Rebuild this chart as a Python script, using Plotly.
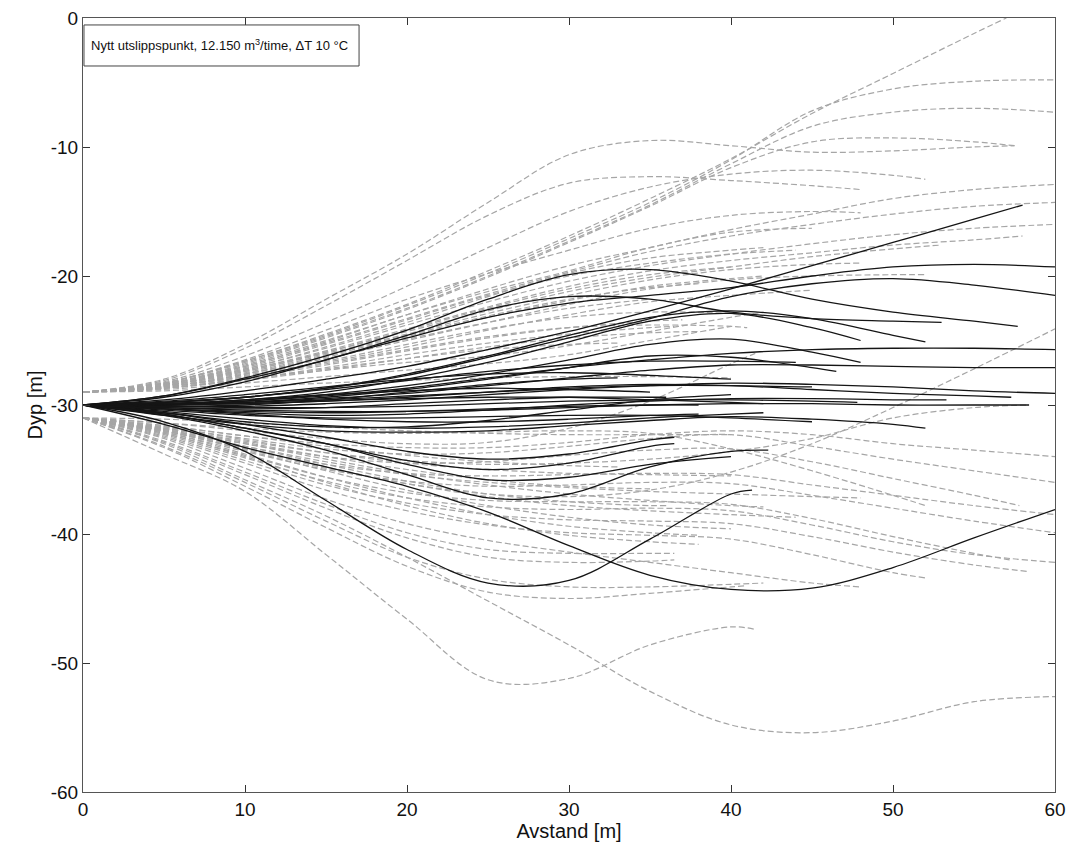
import plotly.graph_objects as go

# Common x grid (m); each line is listed at these x positions up to its end point
X_GRID = [0, 5, 10, 15, 20, 25, 30, 35, 40, 45, 50, 55, 60]

# ---- grey dashed trajectories, starting at -29 m (upper) ----
UPPER_ENDS = [57.5, 48, 57, 60, 60, 57.5, 52, 60, 60, 60, 58, 53, 48, 45, 48, 52, 45,
              42, 41, 37, 36.5, 38, 40, 35, 42, 38, 33, 42, 44, 42, 40, 40]
UPPER_Y = [
    [-29, -28, -25.3, -21.8, -18.3, -14.3, -10.6, -9.5, -9.9, -10.4, -10.3, -10.0, -9.9],
    [-29, -28.1, -25.6, -22.3, -18.8, -15.3, -12.8, -12.3, -12.6, -13.0, -13.3],
    [-29, -28.3, -26.6, -24.5, -22.2, -19.6, -16.9, -14.0, -10.9, -7.4, -4.3, -1.2, 0],
    [-29, -28.3, -26.6, -24.6, -22.3, -19.8, -17.1, -14.3, -11.0, -7.2, -5.5, -4.9, -4.8],
    [-29, -28.3, -26.7, -24.7, -22.5, -20.0, -17.3, -14.5, -11.3, -8.4, -7.3, -7.0, -7.3],
    [-29, -28.4, -26.8, -24.8, -22.6, -20.1, -17.4, -14.6, -11.6, -9.6, -9.3, -9.6, -9.9],
    [-29, -28.2, -26.2, -23.6, -20.8, -17.8, -15.0, -13.1, -12.1, -11.8, -12.2, -12.5],
    [-29, -28.4, -26.9, -25.0, -23.0, -21.0, -19.2, -17.8, -16.4, -15.2, -14.0, -13.3, -12.9],
    [-29, -28.4, -27.0, -25.2, -23.3, -21.4, -19.7, -18.1, -16.9, -16.0, -15.2, -14.6, -14.3],
    [-29, -28.5, -27.2, -25.6, -23.8, -22.0, -20.4, -19.2, -18.3, -17.5, -16.8, -16.3, -16.0],
    [-29, -28.5, -27.3, -25.8, -24.1, -22.4, -20.8, -19.6, -18.8, -18.2, -17.6, -17.2, -16.9],
    [-29, -28.5, -27.3, -25.9, -24.3, -22.7, -21.2, -20.1, -19.3, -18.5, -17.9, -17.6],
    [-29, -28.3, -26.5, -24.2, -21.8, -19.8, -18.0, -16.3, -15.3, -15.0, -15.1],
    [-29, -28.4, -27.0, -25.1, -23.0, -21.2, -19.6, -17.8, -16.6, -16.3],
    [-29, -28.5, -27.4, -26.0, -24.5, -22.9, -21.5, -20.3, -19.5, -19.1, -19.0],
    [-29, -28.6, -27.6, -26.4, -25.0, -23.6, -22.2, -21.0, -20.3, -20.0, -19.9, -19.9],
    [-29, -28.6, -27.8, -26.7, -25.5, -24.2, -23.0, -22.0, -21.5, -21.1],
    [-29, -28.6, -27.7, -26.6, -25.3, -24.1, -23.2, -22.8, -22.9, -23.1],
    [-29, -28.6, -27.8, -26.8, -25.7, -24.7, -24.0, -23.8, -23.9, -24.0],
    [-29, -28.7, -27.9, -26.9, -25.8, -24.8, -24.0, -23.5, -23.4],
    [-29, -28.7, -28.0, -27.1, -26.1, -25.2, -24.5, -24.0, -23.9],
    [-29, -28.5, -27.5, -26.1, -24.6, -23.1, -21.8, -20.9, -20.6],
    [-29, -28.5, -27.4, -25.9, -24.2, -22.5, -21.0, -19.9, -19.3],
    [-29, -28.6, -27.6, -26.3, -24.9, -23.6, -22.5, -21.8],
    [-29, -28.6, -27.6, -26.2, -24.7, -23.2, -21.9, -20.8, -20.2, -20.0],
    [-29, -28.7, -28.1, -27.3, -26.4, -25.5, -24.8, -24.4, -24.3],
    [-29, -28.7, -28.0, -27.2, -26.4, -25.7, -25.3, -25.2],
    [-29, -28.4, -27.2, -25.5, -23.6, -21.6, -19.8, -18.6, -18.0, -17.8],
    [-29, -28.4, -27.1, -25.3, -23.4, -21.5, -20.0, -19.0, -18.3, -18.0],
    [-29, -28.7, -28.0, -27.3, -26.7, -26.2, -25.4, -24.3, -23.2, -22.8],
    [-29, -28.8, -28.3, -27.8, -27.3, -26.8, -26.1, -25.0, -23.9],
    [-29, -28.9, -28.6, -28.3, -28.1, -27.9, -27.8, -27.8, -27.9],
]

# ---- grey dashed trajectories, starting at -31 m (lower) ----
LOWER_ENDS = [41.5, 60, 60, 60, 57.8, 52, 60, 60, 57.2, 60, 58.3, 52, 48, 36.5, 36.5, 42, 41,
              48, 36, 40, 38, 42, 35, 40, 44, 38, 33, 60, 58.3, 41.5, 40]
LOWER_Y = [
    [-31, -33.8, -36.7, -41.6, -46.6, -51.3, -51.2, -48.6, -47.2, -47.4],
    [-31, -33.0, -35.8, -38.6, -41.8, -45.2, -48.6, -52.2, -54.8, -55.4, -54.5, -53.0, -52.6],
    [-31, -31.6, -32.4, -33.0, -33.3, -33.3, -32.9, -32.3, -32.0, -32.3, -33.0, -33.5, -34.0],
    [-31, -31.7, -32.6, -33.4, -33.8, -33.7, -33.2, -32.6, -32.3, -33.2, -34.2, -35.1, -36.0],
    [-31, -31.9, -33.0, -34.0, -34.5, -34.4, -33.9, -33.5, -33.4, -34.4, -35.7, -37.0, -37.8],
    [-31, -31.4, -31.8, -32.1, -32.2, -32.1, -32.0, -32.2, -33.4, -35.1, -37.0, -37.8],
    [-31, -32.0, -33.4, -34.6, -35.3, -35.5, -35.4, -35.3, -35.4, -36.2, -37.0, -37.8, -38.5],
    [-31, -32.1, -33.6, -35.0, -35.9, -36.3, -36.2, -36.0, -36.1, -37.0, -38.0, -39.0, -39.9],
    [-31, -32.2, -33.9, -35.6, -36.8, -37.4, -37.5, -37.5, -37.7, -38.8, -40.2, -41.5, -42.0],
    [-31, -32.3, -34.1, -35.9, -37.2, -37.9, -38.1, -38.0, -38.2, -39.3, -40.6, -41.6, -42.2],
    [-31, -32.4, -34.3, -36.2, -37.6, -38.5, -38.9, -39.0, -39.2, -40.2, -41.4, -42.4, -42.9],
    [-31, -32.5, -34.5, -36.6, -38.2, -39.3, -39.9, -40.1, -40.4, -41.6, -43.0, -43.4],
    [-31, -32.0, -33.2, -34.4, -35.4, -36.0, -36.4, -36.7, -36.9, -37.1, -37.2],
    [-31, -32.8, -35.2, -37.7, -39.9, -41.2, -41.5, -41.5, -41.5],
    [-31, -32.9, -35.4, -38.0, -40.3, -41.8, -42.2, -42.1, -42.0],
    [-31, -33.2, -36.0, -39.0, -41.8, -43.5, -44.1, -44.1, -43.9, -43.8],
    [-31, -33.3, -36.3, -39.5, -42.5, -44.5, -45.0, -44.6, -44.1, -44.0],
    [-31, -32.6, -34.9, -37.3, -39.2, -40.5, -41.4, -42.2, -43.0, -43.8, -44.1],
    [-31, -31.9, -33.2, -34.6, -35.9, -36.9, -37.5, -37.8, -37.8],
    [-31, -32.0, -33.5, -35.1, -36.6, -37.8, -38.7, -39.3, -39.6],
    [-31, -32.1, -33.8, -35.6, -37.2, -38.5, -39.4, -39.9, -40.1],
    [-31, -31.8, -33.0, -34.2, -35.3, -36.2, -36.9, -37.4, -37.8, -37.9],
    [-31, -31.8, -32.9, -34.0, -35.0, -35.8, -36.3, -36.5],
    [-31, -31.7, -32.7, -33.7, -34.5, -35.0, -35.3, -35.4, -35.5],
    [-31, -31.9, -33.3, -34.8, -36.1, -37.1, -37.8, -38.2, -38.5, -38.7],
    [-31, -32.2, -34.0, -36.0, -37.8, -39.2, -40.1, -40.6, -40.8],
    [-31, -31.6, -32.4, -33.2, -33.9, -34.4, -34.7, -34.8],
    [-31, -32.0, -33.4, -34.9, -36.1, -36.9, -37.1, -36.6, -35.2, -33.0, -30.2, -27.2, -24.1],
    [-31, -31.8, -32.8, -33.7, -34.3, -34.6, -34.5, -34.2, -33.6, -32.6, -31.0, -30.2, -30.0],
    [-31, -31.4, -32.0, -32.6, -33.0, -32.9, -31.8, -29.7, -26.8, -26.0],
    [-31, -31.1, -31.4, -31.7, -32.0, -32.2, -32.3, -32.3, -32.3],
]

# ---- black solid trajectories, starting at -30 m ----
BLACK_ENDS = [58, 57.7, 60, 60, 53, 52, 48, 48, 46.5, 60, 60, 60, 57.3, 58.4, 47.8, 53.3, 45, 52,
              40, 38, 35, 42, 36, 44, 40, 33, 41.3, 60, 42.3, 40, 36.5, 36.5, 45, 38, 42]
BLACK_Y = [
    [-30, -29.6, -28.9, -28.0, -27.0, -25.7, -24.3, -22.7, -21.0, -19.2, -17.4, -15.6, -14.5],
    [-30, -29.3, -27.9, -26.2, -24.2, -21.8, -19.9, -19.5, -20.4, -21.8, -22.8, -23.5, -23.9],
    [-30, -29.4, -28.2, -26.5, -24.8, -23.2, -22.1, -21.5, -20.9, -20.0, -19.3, -19.1, -19.3],
    [-30, -29.8, -29.4, -28.7, -27.7, -26.3, -24.8, -23.3, -21.6, -20.6, -20.2, -20.7, -21.5],
    [-30, -29.3, -28.0, -26.5, -24.6, -22.6, -21.6, -21.8, -22.8, -23.3, -23.5, -23.6],
    [-30, -29.8, -29.4, -28.7, -27.6, -26.2, -24.6, -23.2, -22.7, -23.3, -24.6, -25.1],
    [-30, -29.9, -29.6, -29.0, -28.0, -26.7, -25.1, -23.5, -22.9, -24.0, -25.0],
    [-30, -29.9, -29.7, -29.2, -28.5, -27.6, -26.5, -25.3, -24.9, -25.9, -26.7],
    [-30, -30.0, -29.8, -29.4, -28.8, -28.0, -27.1, -26.2, -26.3, -27.1, -27.4],
    [-30, -30.0, -29.7, -29.3, -28.7, -27.9, -27.1, -26.5, -26.0, -25.7, -25.6, -25.6, -25.7],
    [-30, -30.0, -29.8, -29.5, -29.1, -28.5, -27.9, -27.3, -26.9, -26.9, -27.0, -27.1, -27.1],
    [-30, -30.1, -30.1, -29.9, -29.6, -29.2, -28.8, -28.5, -28.3, -28.4, -28.6, -28.9, -29.1],
    [-30, -30.0, -29.9, -29.7, -29.4, -29.0, -28.6, -28.4, -28.5, -28.8, -29.1, -29.3, -29.4],
    [-30, -30.2, -30.4, -30.5, -30.5, -30.4, -30.2, -30.0, -29.9, -29.9, -30.0, -30.0, -30.0],
    [-30, -30.1, -30.2, -30.2, -30.1, -29.9, -29.7, -29.6, -29.6, -29.7, -29.8],
    [-30, -30.3, -30.6, -30.8, -30.7, -30.4, -30.0, -29.7, -29.5, -29.5, -29.6, -29.6],
    [-30, -30.4, -30.8, -31.0, -31.0, -30.9, -30.8, -30.8, -31.0, -31.3],
    [-30, -30.8, -31.5, -32.0, -32.1, -32.0, -31.6, -31.2, -30.9, -31.1, -31.5, -31.8],
    [-30, -29.7, -29.2, -28.6, -28.0, -27.6, -27.5, -27.7, -28.0],
    [-30, -30.3, -30.7, -31.1, -31.3, -31.3, -31.1, -30.8, -30.7],
    [-30, -29.9, -29.6, -29.2, -28.9, -28.7, -28.8, -29.0],
    [-30, -30.5, -31.1, -31.6, -31.8, -31.7, -31.4, -31.0, -30.7, -30.6],
    [-30, -30.2, -30.3, -30.2, -29.9, -29.6, -29.4, -29.4, -29.4],
    [-30, -29.8, -29.4, -28.8, -28.1, -27.4, -26.9, -26.6, -26.6, -26.7],
    [-30, -30.6, -31.3, -31.7, -31.7, -31.2, -30.4, -29.6, -29.2],
    [-30, -30.1, -30.0, -29.6, -29.0, -28.4, -28.0, -27.9],
    [-30, -31.3, -33.6, -37.4, -41.2, -43.8, -43.6, -40.4, -36.9, -36.6],
    [-30, -31.5, -33.3, -34.8, -36.3, -38.3, -40.9, -43.2, -44.3, -44.2, -42.6, -40.3, -38.1],
    [-30, -30.8, -32.0, -33.5, -35.4, -37.2, -36.9, -34.8, -33.6, -33.5],
    [-30, -30.7, -31.8, -33.0, -34.6, -35.8, -35.6, -34.6, -34.0],
    [-30, -30.6, -31.5, -32.5, -33.6, -34.2, -33.8, -32.7, -32.5],
    [-30, -30.7, -31.8, -33.0, -34.3, -35.0, -34.5, -33.2, -33.0],
    [-30, -29.9, -29.8, -29.6, -29.3, -29.0, -28.7, -28.5, -28.5, -28.6],
    [-30, -30.3, -30.5, -30.6, -30.5, -30.3, -30.1, -30.0, -30.0],
    [-30, -30.0, -29.9, -29.7, -29.5, -29.4, -29.4, -29.6, -29.8, -29.9],
]

X_TICKS = [0, 10, 20, 30, 40, 50, 60]
X_TICK_TEXT = ["0", "10", "20", "30", "40", "50", "60"]
Y_TICKS = [0, -10, -20, -30, -40, -50, -60]
Y_TICK_TEXT = ["0", "-10", "-20", "-30", "-40", "-50", "-60"]
TITLE_TEXT = "Nytt utslippspunkt, 12.150 m<sup>3</sup>/time, \u0394T 10 \u00b0C"
X_LABEL = "Avstand [m]"
Y_LABEL = "Dyp [m]"

FONT = "Liberation Sans, Arial, sans-serif"


def xs_for(end):
    return [g for g in X_GRID if g < end] + [end]


fig = go.Figure()

for ends, ys_list in ((UPPER_ENDS, UPPER_Y), (LOWER_ENDS, LOWER_Y)):
    for end, ys in zip(ends, ys_list):
        xs = xs_for(end)
        n = min(len(xs), len(ys))
        fig.add_trace(go.Scatter(
            x=xs[:n], y=ys[:n], mode="lines",
            line=dict(color="#a6a6a6", width=1.2, dash="6px,3px", shape="spline", smoothing=1.0),
            hoverinfo="skip", showlegend=False))

for end, ys in zip(BLACK_ENDS, BLACK_Y):
    xs = xs_for(end)
    n = min(len(xs), len(ys))
    fig.add_trace(go.Scatter(
        x=xs[:n], y=ys[:n], mode="lines",
        line=dict(color="#151515", width=1.3, shape="spline", smoothing=1.0),
        hoverinfo="skip", showlegend=False))

axis_common = dict(
    showline=True, linecolor="#555555", linewidth=1.2, mirror="ticks",
    ticks="inside", ticklen=7, tickcolor="#333333", tickwidth=1,
    showgrid=False, zeroline=False, automargin=False,
    tickfont=dict(family=FONT, size=19, color="#111111"),
)

fig.update_layout(
    width=1069, height=845,
    margin=dict(l=83, r=14, t=18, b=53),
    paper_bgcolor="white", plot_bgcolor="white",
    font=dict(family=FONT, size=19, color="#111111"),
    xaxis=dict(range=[0, 60], tickvals=X_TICKS, ticktext=X_TICK_TEXT,
               title=dict(text=X_LABEL, standoff=0, font=dict(family=FONT, size=20)), **axis_common),
    yaxis=dict(range=[-60, 0], tickvals=Y_TICKS, ticktext=Y_TICK_TEXT,
               title=dict(text=Y_LABEL, standoff=2, font=dict(family=FONT, size=20)), **axis_common),
    shapes=[dict(type="rect", xref="paper", yref="paper",
                 x0=0.001, x1=0.284, y0=0.938, y1=0.991,
                 line=dict(color="#444444", width=1), fillcolor="white", layer="above")],
    annotations=[dict(
        text=TITLE_TEXT, xref="paper", yref="paper", x=0.006, y=0.9645,
        xanchor="left", yanchor="middle", showarrow=False, align="left",
        font=dict(family=FONT, size=13, color="#111111"))],
)

# remove the default body margin so the figure sits at the page's top-left corner
fig.write_html("out.html", config={"displayModeBar": False},
               post_script="document.body.style.margin='0px';")
